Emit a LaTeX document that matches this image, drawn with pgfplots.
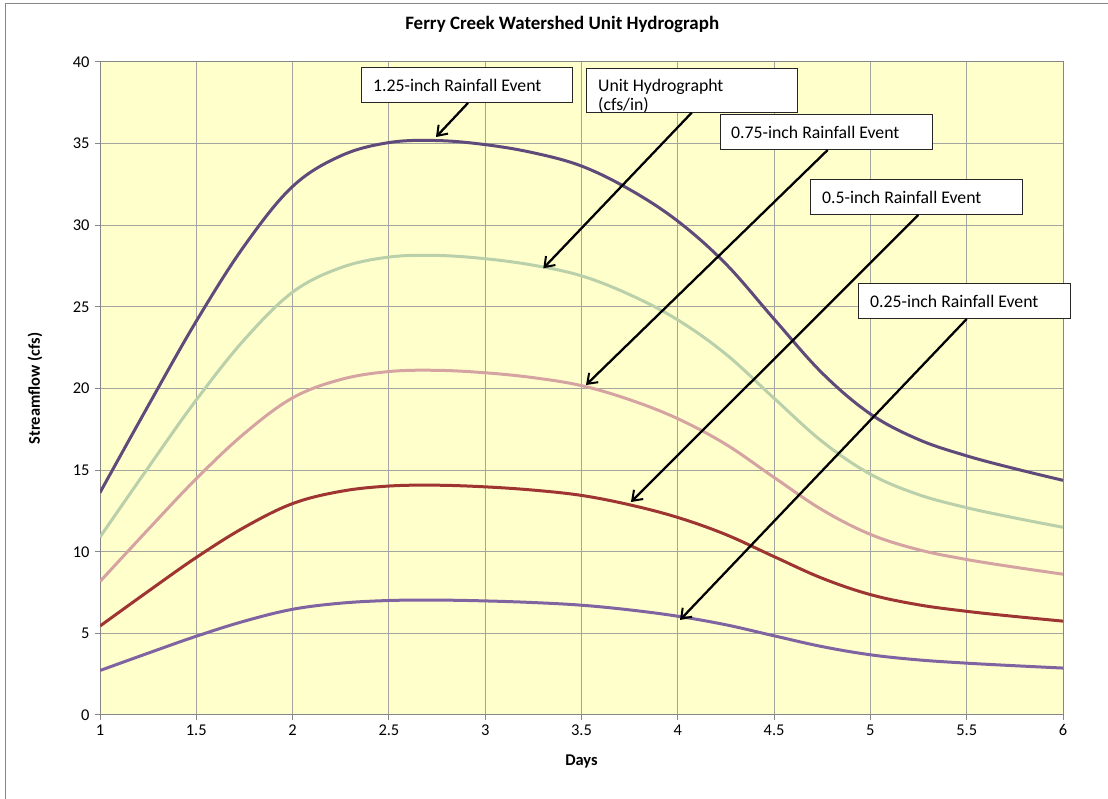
\documentclass[border=0pt]{standalone}
\usepackage{fontspec}
\setmainfont{Carlito}
\usepackage{pgfplots}
\pgfplotsset{compat=1.18}
\usetikzlibrary{arrows.meta}
\definecolor{plotbg}{HTML}{FFFFCC}
\definecolor{gridgray}{HTML}{A5A5A0}
\definecolor{axisgray}{HTML}{868686}
\definecolor{cTop}{HTML}{604A7B}
\definecolor{cUnit}{HTML}{B9D0AA}
\definecolor{cSeven}{HTML}{D6A3A3}
\definecolor{cHalf}{HTML}{9E3532}
\definecolor{cQuarter}{HTML}{8064A2}
\begin{document}
\begin{tikzpicture}[x=1bp,y=1bp]
\useasboundingbox (0,0) rectangle (1108,799);
\fill[white] (0,0) rectangle (1108,799);
\draw[axisgray, line width=1bp] (5.5,0) -- (5.5,795.5) -- (1108,795.5);
\begin{axis}[
  at={(100bp,84bp)}, anchor=south west,
  scale only axis, width=963bp, height=653bp,
  xmin=1, xmax=6, ymin=0, ymax=40,
  xtick={1,1.5,2,2.5,3,3.5,4,4.5,5,5.5,6},
  ytick={0,5,10,15,20,25,30,35,40},
  grid=major,
  major grid style={color=gridgray, line width=1bp},
  axis background/.style={fill=plotbg},
  axis line style={color=axisgray, line width=1bp},
  tick style={color=axisgray, line width=1bp},
  tick align=outside, tick pos=left, major tick length=5bp,
  /pgf/number format/assume math mode=true,
  ticklabel style={font=\fontsize{16.5}{19}\selectfont, text=black},
  xticklabel style={yshift=-1bp},
  yticklabel style={xshift=-2bp},
  title={Ferry Creek Watershed Unit Hydrograph},
  title style={at={(axis description cs:0.48,1.049)}, anchor=center, font=\bfseries\fontsize{19}{22}\selectfont},
  xlabel={Days},
  ylabel={Streamflow (cfs)},
  xlabel style={at={(axis description cs:0.5,-0.0704)}, anchor=center, font=\bfseries\fontsize{16.5}{19}\selectfont},
  ylabel style={at={(axis description cs:-0.0675,0.5)}, anchor=center, rotate=0, font=\bfseries\fontsize{16.5}{19}\selectfont},
  every axis plot/.append style={smooth, tension=0.6, line width=3bp},
]
% 0.25-inch Rainfall Event
\addplot[color=cQuarter] coordinates {
(1,2.725) (1.25,3.788) (1.5,4.825) (1.75,5.75) (2,6.475) (2.25,6.85) (2.5,7.013) (2.75,7.038)
(3,6.988) (3.25,6.888) (3.5,6.725) (3.75,6.438) (4,6.05) (4.25,5.525) (4.5,4.85) (4.75,4.188)
(5,3.688) (5.25,3.375) (5.5,3.175) (5.75,3.018) (6,2.875)};
% 0.5-inch Rainfall Event
\addplot[color=cHalf] coordinates {
(1,5.45) (1.25,7.575) (1.5,9.65) (1.75,11.5) (2,12.95) (2.25,13.7) (2.5,14.025) (2.75,14.075)
(3,13.975) (3.25,13.775) (3.5,13.45) (3.75,12.875) (4,12.1) (4.25,11.05) (4.5,9.7) (4.75,8.375)
(5,7.375) (5.25,6.75) (5.5,6.35) (5.75,6.035) (6,5.75)};
% 0.75-inch Rainfall Event
\addplot[color=cSeven] coordinates {
(1,8.175) (1.25,11.363) (1.5,14.475) (1.75,17.25) (2,19.425) (2.25,20.55) (2.5,21.038) (2.75,21.113)
(3,20.963) (3.25,20.663) (3.5,20.175) (3.75,19.313) (4,18.15) (4.25,16.575) (4.5,14.55) (4.75,12.563)
(5,11.063) (5.25,10.125) (5.5,9.525) (5.75,9.053) (6,8.625)};
% Unit Hydrograph (cfs/in)
\addplot[color=cUnit] coordinates {
(1,10.9) (1.25,15.15) (1.5,19.3) (1.75,23.0) (2,25.9) (2.25,27.4) (2.5,28.05) (2.75,28.15)
(3,27.95) (3.25,27.55) (3.5,26.9) (3.75,25.75) (4,24.2) (4.25,22.1) (4.5,19.4) (4.75,16.75)
(5,14.75) (5.25,13.5) (5.5,12.7) (5.75,12.07) (6,11.5)};
% 1.25-inch Rainfall Event
\addplot[color=cTop] coordinates {
(1,13.625) (1.25,18.938) (1.5,24.125) (1.75,28.75) (2,32.375) (2.25,34.25) (2.5,35.063) (2.75,35.188)
(3,34.938) (3.25,34.438) (3.5,33.625) (3.75,32.188) (4,30.25) (4.25,27.625) (4.5,24.25) (4.75,20.938)
(5,18.438) (5.25,16.875) (5.5,15.875) (5.75,15.088) (6,14.375)};
\end{axis}
% annotations
\tikzset{ann/.style={font=\fontsize{17.8}{20}\selectfont, anchor=west, inner sep=0pt},
  box/.style={fill=white, draw=black!85, line width=1bp},
  arr/.style={black, line width=2.3bp, -{Straight Barb[length=9bp,width=13bp,line width=2bp]}}}
% 1.25
\draw[box] (361.7,696.3) rectangle (572.7,731.7);
\node[ann] at (373,714) {1.25-inch Rainfall Event};
\draw[arr] (468,696) -- (436,662);
% Unit hydrograph
\fill[white] (586,686.3) rectangle (797.7,730);
\begin{scope}
\clip (586,686.3) rectangle (797.7,730);
\node[ann, anchor=base west] at (598,707.3) {Unit Hydrographt};
\node[ann, anchor=base west] at (598,688.3) {(cfs/in)};
\end{scope}
\draw[black!85, line width=1bp] (586,686.3) rectangle (797.7,730);
\draw[arr] (691.7,686.3) -- (543.3,530.7);
% 0.75
\draw[box] (720,649) rectangle (932.3,684.7);
\node[ann] at (731,667) {0.75-inch Rainfall Event};
\draw[arr] (827.7,649) -- (586,414);
% 0.5
\draw[box] (810.3,584) rectangle (1022.3,619.7);
\node[ann] at (822,602) {0.5-inch Rainfall Event};
\draw[arr] (918.3,584) -- (631,297);
% 0.25
\draw[box] (858,480) rectangle (1070,515.7);
\node[ann] at (870,498) {0.25-inch Rainfall Event};
\draw[arr] (966.7,480) -- (680,179);
\end{tikzpicture}
\end{document}
